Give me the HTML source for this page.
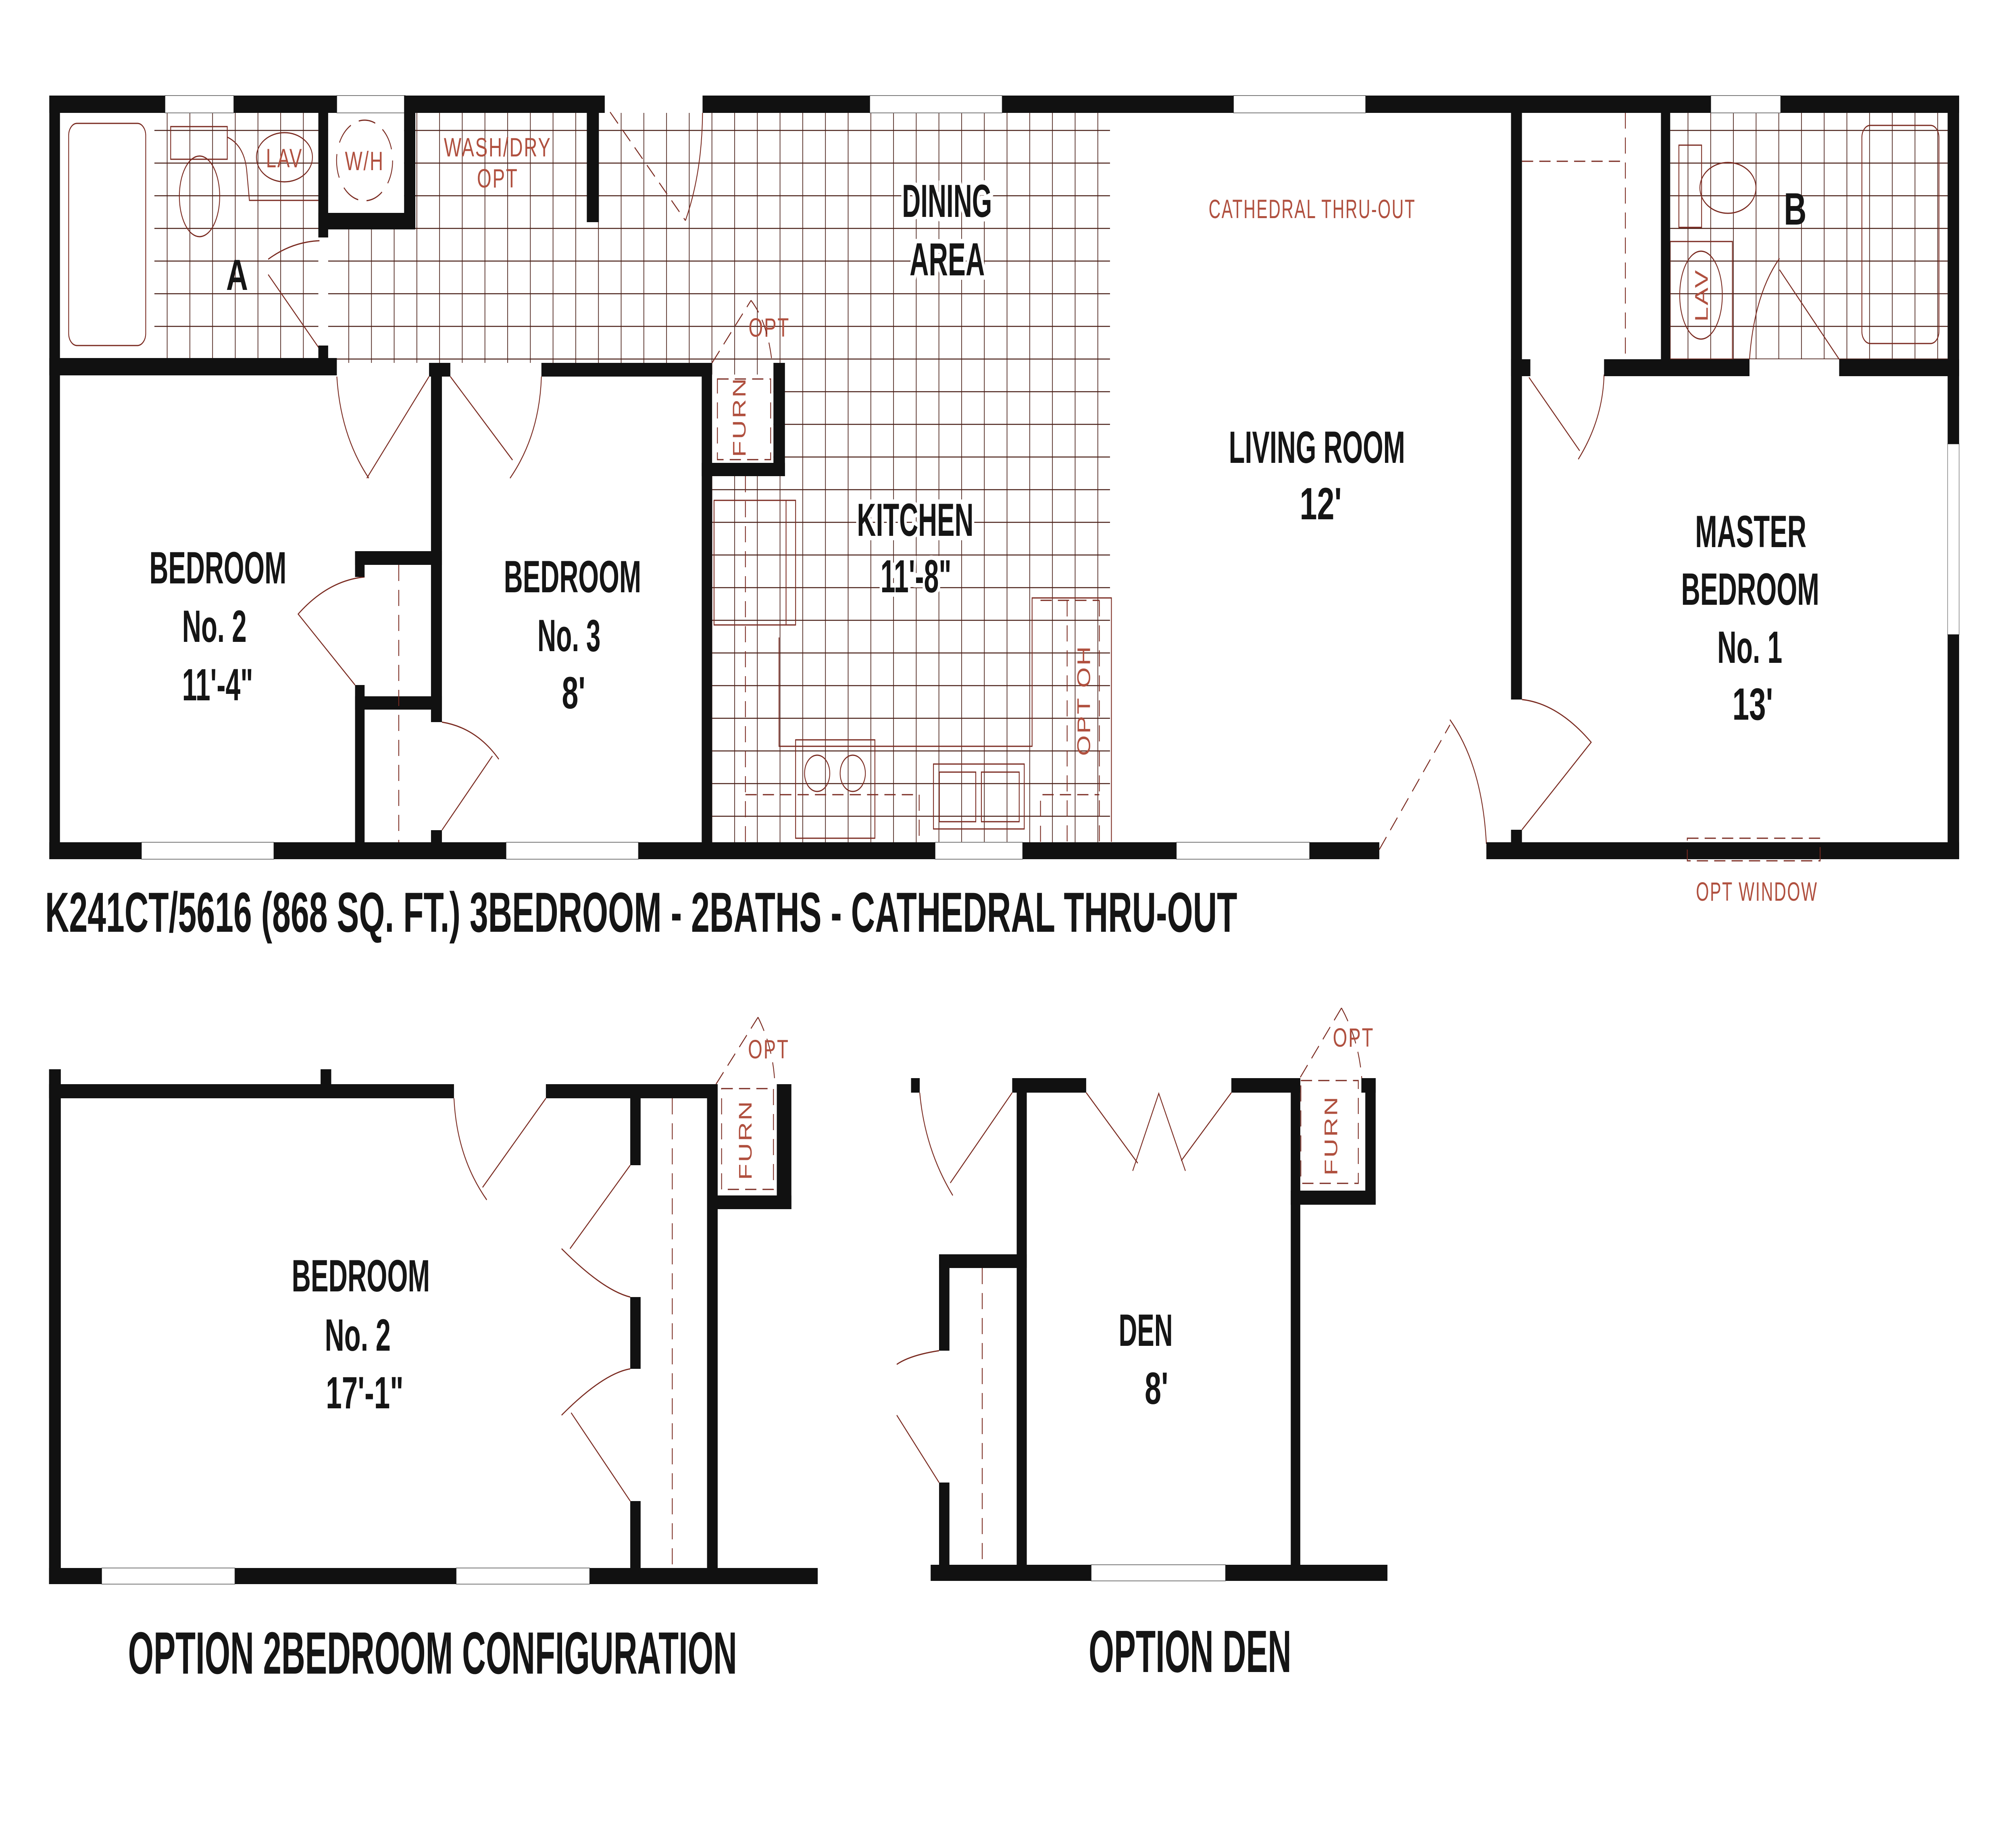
<!DOCTYPE html>
<html><head><meta charset="utf-8"><style>
html,body{margin:0;padding:0;background:#fff;overflow:hidden;width:100%;height:100%}
svg{display:block;position:absolute;left:0;top:0;width:100vw;height:100vh}
.b{font-family:"Liberation Sans Narrow","Liberation Sans",sans-serif;font-weight:bold;fill:#151515}
.h{stroke:#fff;stroke-width:22;paint-order:stroke}
.t{font-family:"Liberation Sans",sans-serif;fill:#b0503f;font-size:66px;letter-spacing:4px}
.d{fill:none;stroke:#7a2a20;stroke-width:3}
.ds{fill:none;stroke:#7a2a20;stroke-width:3;stroke-dasharray:40 22}
.w{fill:#fff;stroke:#777;stroke-width:2}
</style></head><body>
<svg viewBox="0 0 7194 4519" preserveAspectRatio="none" xmlns="http://www.w3.org/2000/svg">
<defs>
<pattern id="g" x="2944" y="322" width="81" height="81" patternUnits="userSpaceOnUse">
<path d="M0 1.5H81M1.5 0V81" stroke="#4a2018" stroke-width="2.5"/>
</pattern>
</defs>
<rect width="7194" height="4519" fill="#fff"/>

<!-- grids -->
<rect x="551" y="280" width="585" height="608" fill="url(#g)"/>
<rect x="1171" y="280" width="2790" height="620" fill="url(#g)"/>
<rect x="2541" y="900" width="1420" height="1189" fill="url(#g)"/>
<rect x="5960" y="279" width="990" height="612" fill="url(#g)"/>
<rect x="1171" y="280" width="271" height="248" fill="#fff"/>
<rect x="2541" y="929" width="219" height="219" fill="#fff"/>

<!-- windows -->
<g class="w">
<rect x="589" y="237" width="245" height="43"/>
<rect x="1202" y="237" width="244" height="43"/>
<rect x="3104" y="237" width="472" height="43"/>
<rect x="4402" y="237" width="471" height="43"/>
<rect x="6105" y="237" width="249" height="43"/>
<rect x="505" y="2089" width="472" height="42"/>
<rect x="1806" y="2089" width="472" height="42"/>
<rect x="3337" y="2089" width="312" height="42"/>
<rect x="4198" y="2089" width="475" height="42"/>
<rect x="6950" y="1101" width="41" height="473"/>
<rect x="363" y="3889" width="475" height="40"/>
<rect x="1628" y="3889" width="476" height="40"/>
<rect x="3894" y="3881" width="479" height="40"/>
</g>

<!-- bath A fixtures -->
<rect x="245" y="306" width="275" height="551" rx="30" class="d"/>
<rect x="609" y="314" width="202" height="81" class="d"/>
<ellipse cx="712" cy="487" rx="72" ry="100" fill="#fff" class="d"/>
<path d="M811 340 Q870 360 880 420 L890 497 H1136" class="d"/>
<ellipse cx="1015" cy="390" rx="100" ry="61" fill="#fff" class="d"/>
<text x="1015" y="415" text-anchor="middle" class="t">LAV</text>
<circle cx="1301" cy="398" r="100" fill="#fff" stroke="#7a2a20" stroke-width="3" stroke-dasharray="60 30"/>
<text x="1301" y="422" text-anchor="middle" class="t">W/H</text>
<text x="1776" y="388" text-anchor="middle" class="t">WASH/DRY</text>
<text x="1776" y="465" text-anchor="middle" class="t">OPT</text>

<!-- bath B fixtures -->
<rect x="6644" y="311" width="275" height="541" rx="30" fill="#fff" class="d"/>
<rect x="5960" y="599" width="222" height="292" fill="#fff" class="d"/>
<rect x="5991" y="360" width="81" height="204" fill="#fff" class="d"/>
<ellipse cx="6166" cy="466" rx="100" ry="63" fill="#fff" class="d"/>
<ellipse cx="6070" cy="732" rx="76" ry="109" fill="#fff" class="d"/>
<text transform="translate(6094 732) rotate(-90)" text-anchor="middle" class="t">LAV</text>
<path d="M5431 400H5800M5800 279V891" class="ds"/>

<!-- kitchen -->
<rect x="2548" y="1241" width="291" height="309" fill="#fff" class="d"/>
<path d="M2805 1241V1550" class="d"/>
<path d="M2780 1581V1851H3683V1483H3966V2088" class="d"/>
<path d="M2660 1181V2088M2660 1971H3280V2088M3713 2088V1971H3923M3808 1489V2088M3923 1489V2088M3713 1489H3923" class="ds"/>
<rect x="2839" y="1835" width="283" height="244" fill="#fff" class="d"/>
<circle cx="2916" cy="1918" r="45" class="d"/>
<circle cx="3043" cy="1918" r="45" class="d"/>
<rect x="3331" y="1895" width="324" height="161" fill="#fff" class="d"/>
<rect x="3352" y="1915" width="130" height="123" class="d"/>
<rect x="3502" y="1915" width="135" height="123" class="d"/>
<rect x="2560" y="940" width="190" height="200" class="ds"/>
<text transform="translate(2660 1034) rotate(-90)" text-anchor="middle" class="t">FURN</text>
<text x="2745" y="835" text-anchor="middle" class="t">OPT</text>
<path d="M2541 900L2680 745M2680 745Q2740 800 2755 900" class="ds"/>
<text transform="translate(3890 1737) rotate(-90)" text-anchor="middle" class="t">OPT OH</text>

<!-- doors main -->
<path d="M1140 865L957 681M957 643Q1041 600 1140 597" class="d"/>
<path d="M1202 934Q1215 1080 1316 1186M1531 934L1309 1186" class="d"/>
<path d="M1607 934L1829 1141M1932 934Q1925 1080 1820 1186" class="d"/>
<path d="M1301 1431Q1170 1440 1064 1523L1267 1699" class="d"/>
<path d="M1577 1791Q1700 1805 1780 1883M1757 1875L1577 2059" class="d"/>
<path d="M2177 278L2446 547" class="ds"/>
<path d="M2507 280Q2505 430 2446 547" class="d"/>
<path d="M4922 2107L5174 1798" class="ds"/>
<path d="M5174 1785Q5290 1900 5304 2093" class="d"/>
<path d="M5431 1735Q5560 1745 5678 1841L5431 2058" class="d"/>
<path d="M5456 936L5637 1118M5724 929Q5720 1040 5632 1139" class="d"/>
<path d="M6350 669L6563 891M6243 891Q6260 730 6350 641" class="d"/>

<!-- walls main -->
<g fill="#111">
<rect x="176" y="237" width="413" height="43"/>
<rect x="834" y="237" width="368" height="43"/>
<rect x="1446" y="237" width="712" height="43"/>
<rect x="2507" y="237" width="597" height="43"/>
<rect x="3576" y="237" width="826" height="43"/>
<rect x="4873" y="237" width="1232" height="43"/>
<rect x="6354" y="237" width="637" height="43"/>
<rect x="176" y="237" width="38" height="1894"/>
<rect x="6950" y="237" width="41" height="864"/>
<rect x="6950" y="1574" width="41" height="557"/>
<rect x="176" y="2089" width="329" height="42"/>
<rect x="977" y="2089" width="829" height="42"/>
<rect x="2278" y="2089" width="1059" height="42"/>
<rect x="3649" y="2089" width="549" height="42"/>
<rect x="4673" y="2089" width="249" height="42"/>
<rect x="5304" y="2089" width="1687" height="42"/>
<rect x="1136" y="237" width="35" height="352"/>
<rect x="1136" y="528" width="346" height="41"/>
<rect x="1442" y="237" width="40" height="332"/>
<rect x="2094" y="237" width="43" height="314"/>
<rect x="176" y="888" width="1026" height="43"/>
<rect x="1136" y="857" width="35" height="74"/>
<rect x="1531" y="900" width="76" height="34"/>
<rect x="1932" y="900" width="609" height="34"/>
<rect x="1538" y="900" width="39" height="891"/>
<rect x="1538" y="2059" width="39" height="72"/>
<rect x="1267" y="1367" width="310" height="34"/>
<rect x="1267" y="1727" width="310" height="33"/>
<rect x="1267" y="1367" width="34" height="64"/>
<rect x="1267" y="1699" width="34" height="432"/>
<rect x="2504" y="900" width="37" height="1225"/>
<rect x="2760" y="900" width="41" height="281"/>
<rect x="2504" y="1148" width="297" height="33"/>
<rect x="5392" y="237" width="39" height="1498"/>
<rect x="5392" y="2058" width="39" height="70"/>
<rect x="5927" y="237" width="33" height="692"/>
<rect x="5392" y="891" width="69" height="42"/>
<rect x="5724" y="891" width="519" height="42"/>
<rect x="6563" y="891" width="428" height="42"/>
</g>
<path d="M1423 1401V2089" class="ds"/>

<!-- labels main -->
<text x="846" y="719" text-anchor="middle" class="b" font-size="108">A</text>
<text x="6406" y="557" text-anchor="middle" class="b" font-size="112">B</text>
<g class="b h" font-size="115">
<text x="3219" y="538" textLength="321" lengthAdjust="spacingAndGlyphs">DINING</text>
<text x="3246" y="683" textLength="268" lengthAdjust="spacingAndGlyphs">AREA</text>
<text x="3058" y="1329" textLength="416" lengthAdjust="spacingAndGlyphs">KITCHEN</text>
<text x="3142" y="1469" textLength="253" lengthAdjust="spacingAndGlyphs">11'-8"</text>
</g>
<g class="b" font-size="112">
<text x="533" y="1447" textLength="489" lengthAdjust="spacingAndGlyphs">BEDROOM</text>
<text x="650" y="1592" textLength="230" lengthAdjust="spacingAndGlyphs">No. 2</text>
<text x="650" y="1737" textLength="253" lengthAdjust="spacingAndGlyphs">11'-4"</text>
<text x="1798" y="1469" textLength="490" lengthAdjust="spacingAndGlyphs">BEDROOM</text>
<text x="1918" y="1615" textLength="225" lengthAdjust="spacingAndGlyphs">No. 3</text>
<text x="2005" y="1757" textLength="84" lengthAdjust="spacingAndGlyphs">8'</text>
<text x="4385" y="1148" textLength="629" lengthAdjust="spacingAndGlyphs">LIVING ROOM</text>
<text x="4638" y="1288" textLength="150" lengthAdjust="spacingAndGlyphs">12'</text>
<text x="6049" y="1357" textLength="397" lengthAdjust="spacingAndGlyphs">MASTER</text>
<text x="5999" y="1500" textLength="493" lengthAdjust="spacingAndGlyphs">BEDROOM</text>
<text x="6128" y="1644" textLength="232" lengthAdjust="spacingAndGlyphs">No. 1</text>
<text x="6182" y="1785" textLength="145" lengthAdjust="spacingAndGlyphs">13'</text>
</g>
<text x="4313" y="541" class="t" textLength="739" lengthAdjust="spacingAndGlyphs">CATHEDRAL THRU-OUT</text>
<rect x="6021" y="2079" width="474" height="56" class="ds"/>
<text x="6052" y="2234" class="t" textLength="435" lengthAdjust="spacingAndGlyphs">OPT WINDOW</text>
<text x="161" y="2311" class="b" font-size="140" textLength="4254" lengthAdjust="spacingAndGlyphs">K241CT/5616 (868 SQ. FT.) 3BEDROOM - 2BATHS - CATHEDRAL THRU-OUT</text>

<!-- option 2 bedroom -->
<path d="M1620 2724Q1630 2870 1737 2976M1948 2724L1722 2945" class="d"/>
<path d="M2249 2890L2034 3097M2004 3097Q2151 3200 2249 3217" class="d"/>
<path d="M2249 3395Q2151 3407 2004 3510M2038 3504L2249 3723" class="d"/>
<path d="M2399 2724V3889" class="ds"/>
<rect x="2575" y="2700" width="185" height="250" class="ds"/>
<path d="M2555 2689L2705 2523M2705 2523Q2760 2600 2765 2689" class="ds"/>
<text x="2743" y="2625" text-anchor="middle" class="t">OPT</text>
<text transform="translate(2682 2827) rotate(-90)" text-anchor="middle" class="t">FURN</text>
<g fill="#111">
<rect x="175" y="2652" width="42" height="1277"/>
<rect x="175" y="2689" width="1445" height="35"/>
<rect x="1144" y="2652" width="38" height="72"/>
<rect x="1948" y="2689" width="607" height="35"/>
<rect x="2772" y="2689" width="52" height="310"/>
<rect x="2555" y="2965" width="269" height="34"/>
<rect x="2523" y="2689" width="38" height="1240"/>
<rect x="2249" y="2724" width="37" height="166"/>
<rect x="2249" y="3217" width="37" height="178"/>
<rect x="2249" y="3723" width="37" height="206"/>
<rect x="175" y="3889" width="188" height="40"/>
<rect x="838" y="3889" width="790" height="40"/>
<rect x="2104" y="3889" width="814" height="40"/>
</g>
<g class="b" font-size="112">
<text x="1041" y="3203" textLength="493" lengthAdjust="spacingAndGlyphs">BEDROOM</text>
<text x="1159" y="3350" textLength="235" lengthAdjust="spacingAndGlyphs">No. 2</text>
<text x="1163" y="3493" textLength="277" lengthAdjust="spacingAndGlyphs">17'-1"</text>
<text x="3992" y="3338" textLength="193" lengthAdjust="spacingAndGlyphs">DEN</text>
<text x="4085" y="3482" textLength="84" lengthAdjust="spacingAndGlyphs">8'</text>
</g>
<text x="457" y="4151" class="b" font-size="148" textLength="2173" lengthAdjust="spacingAndGlyphs">OPTION 2BEDROOM CONFIGURATION</text>
<text x="3885" y="4147" class="b" font-size="148" textLength="723" lengthAdjust="spacingAndGlyphs">OPTION DEN</text>

<!-- den -->
<path d="M3282 2710Q3300 2850 3400 2965M3612 2710L3391 2934" class="d"/>
<path d="M3876 2710L4060 2885M4042 2904L4135 2712L4230 2904M4215 2879L4394 2710" class="d"/>
<path d="M3351 3350Q3248 3361 3200 3384M3200 3510L3351 3677" class="d"/>
<path d="M3505 3145V3881" class="ds"/>
<rect x="4642" y="2680" width="205" height="255" class="ds"/>
<path d="M4640 2672L4787 2500M4787 2500Q4850 2580 4860 2680" class="ds"/>
<text x="4830" y="2596" text-anchor="middle" class="t">OPT</text>
<text transform="translate(4772 2816) rotate(-90)" text-anchor="middle" class="t">FURN</text>
<g fill="#111">
<rect x="3251" y="2674" width="31" height="36"/>
<rect x="3612" y="2674" width="264" height="36"/>
<rect x="4394" y="2674" width="246" height="36"/>
<rect x="4858" y="2674" width="51" height="36"/>
<rect x="4872" y="2674" width="37" height="314"/>
<rect x="4606" y="2953" width="303" height="35"/>
<rect x="3628" y="2674" width="36" height="1247"/>
<rect x="4606" y="2674" width="34" height="1247"/>
<rect x="3351" y="3111" width="313" height="34"/>
<rect x="3351" y="3111" width="37" height="239"/>
<rect x="3351" y="3677" width="37" height="244"/>
<rect x="3321" y="3881" width="573" height="40"/>
<rect x="4373" y="3881" width="578" height="40"/>
</g>
</svg>
</body></html>
